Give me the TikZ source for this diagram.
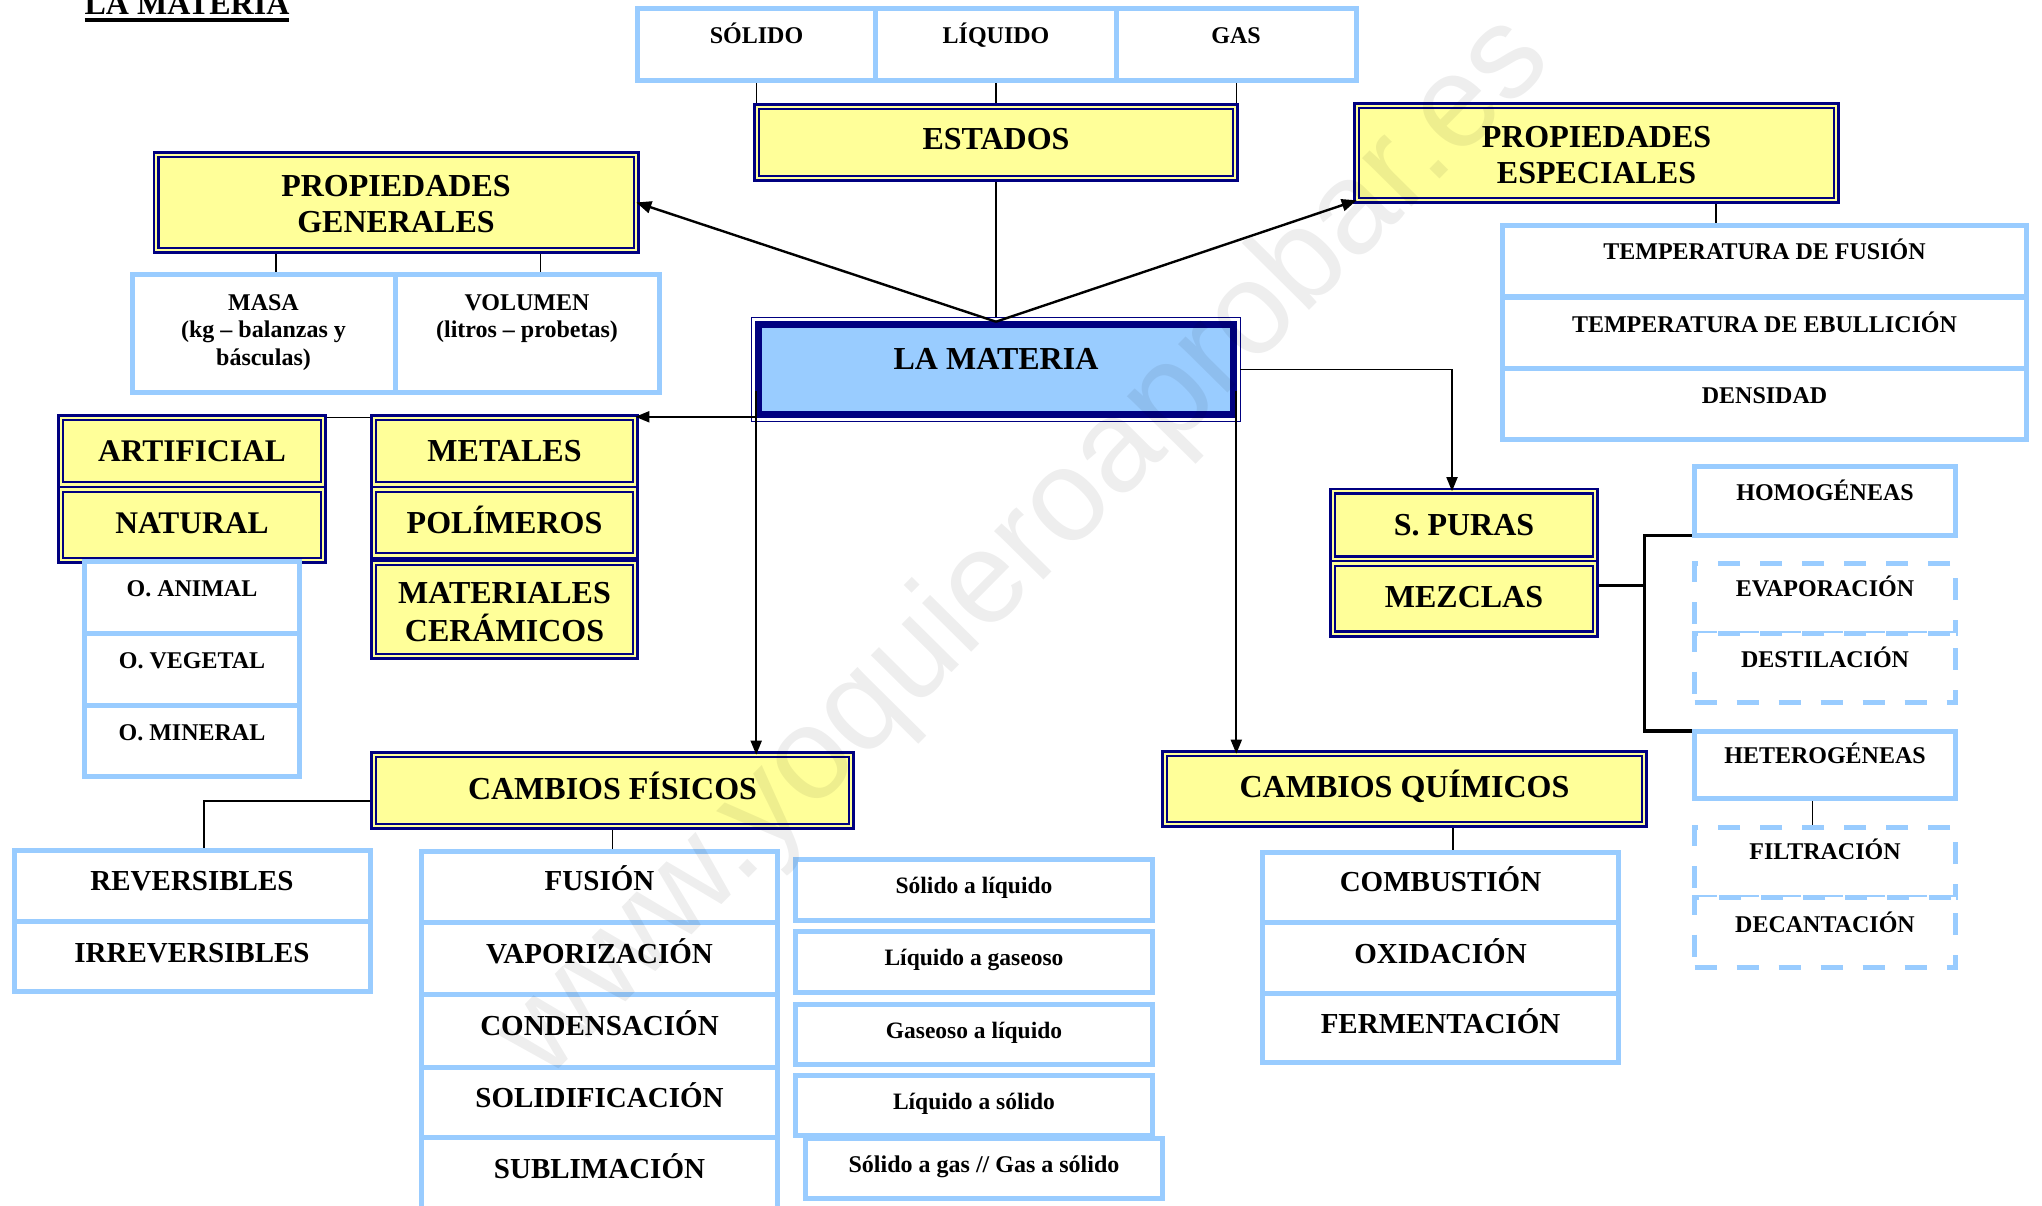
\documentclass[tikz,border=0pt]{standalone}
\usepackage{fontspec}
\setmainfont{Liberation Serif}
\newfontfamily\wmfont{Liberation Sans}
\usetikzlibrary{arrows.meta}
\definecolor{lblue}{HTML}{99CCFF}
\definecolor{yel}{HTML}{FFFF99}
\definecolor{navy}{HTML}{000080}
\pgfdeclarelayer{bg}
\pgfdeclarelayer{fg}
\pgfsetlayers{bg,main,fg}
\newcommand\cbox[6]{\node[#1, minimum width={#5-#3}, minimum height={#6-#4}] (#2) at ({(#3+#5)/2},{(#4+#6)/2}) {};}
\newcommand\twol[3]{\vtop{\baselineskip=#1pt\lineskiplimit=-100pt\relax\halign{\hfil##\hfil\cr#2\cr#3\cr}}}
\newcommand\threel[4]{\vtop{\baselineskip=#1pt\lineskiplimit=-100pt\relax\halign{\hfil##\hfil\cr#2\cr#3\cr#4\cr}}}
\begin{document}
\begin{tikzpicture}[x=1pt,y=-1pt,
  lb/.style={rectangle, draw=lblue, line width=5pt, fill=white, inner sep=0pt, outer sep=0pt},
  lbd/.style={lb, dash pattern=on 22pt off 20pt},
  yb/.style={rectangle, draw=navy, double=yel, double distance=2.2pt, line width=2.6pt, fill=yel, inner sep=0pt, outer sep=0pt},
  matout/.style={rectangle, draw=navy, line width=1.5pt, fill=white, inner sep=0pt, outer sep=0pt},
  matin/.style={rectangle, draw=navy, line width=7pt, fill=lblue, inner sep=0pt, outer sep=0pt},
  tx/.style={anchor=base, inner sep=0pt, outer sep=0pt, font=\fontsize{#1}{#1}\selectfont\bfseries},
  thinl/.style={line width=1.5pt, black},
  brack/.style={line width=3.5pt, black},
  arr/.style={line width=2.4pt, black, -{Triangle[length=15pt,width=12pt]}},
  arrb/.style={line width=1.8pt, black, -{Triangle[length=14pt,width=11pt]}}
]
\useasboundingbox (0,0) rectangle (2042,1206);
\clip (0,0) rectangle (2042,1206);
\begin{pgfonlayer}{bg}
\fill[white] (0,0) rectangle (2042,1206);
\end{pgfonlayer}

% ---------- boxes ----------
\cbox{lb}{sol}{637.5}{8.5}{875.5}{80.5}
\cbox{lb}{liq}{875.5}{8.5}{1116}{80.5}
\cbox{lb}{gas}{1116}{8.5}{1356.5}{80.5}
\cbox{yb}{est}{756.7}{106.7}{1235.3}{178.3}
\cbox{yb}{pgen}{156.2}{154.7}{636.3}{250.3}
\cbox{yb}{pesp}{1356.7}{105.7}{1836.3}{200.3}
\cbox{lb}{masa}{132}{274.5}{395}{392.5}
\cbox{lb}{vol}{395}{274.5}{659.5}{392.5}
\cbox{lb}{tempf}{1502.5}{225.5}{2026.5}{297}
\cbox{lb}{tempe}{1502.5}{297}{2026.5}{368}
\cbox{lb}{dens}{1502.5}{368}{2026.5}{439.5}
\cbox{matout}{mat}{751.7}{317.7}{1240.3}{421.3}
\cbox{matin}{matin}{758.5}{324.5}{1233.5}{414.5}
\cbox{yb}{art}{60.7}{417.7}{323.3}{484.5}
\cbox{yb}{nat}{60.7}{489.5}{323.3}{560.3}
\cbox{lb}{oani}{84.5}{561.5}{299.5}{633}
\cbox{lb}{oveg}{84.5}{633}{299.5}{705}
\cbox{lb}{omin}{84.5}{705}{299.5}{776.5}
\cbox{yb}{met}{373.7}{417.7}{635.3}{484.5}
\cbox{yb}{pol}{373.7}{489.5}{635.3}{555.5}
\cbox{yb}{cer}{373.7}{562.7}{635.3}{656.3}
\cbox{yb}{spur}{1332.7}{491.2}{1595.3}{559}
\cbox{yb}{mez}{1332.7}{563.5}{1595.3}{633.8}
\cbox{lb}{homo}{1694.5}{466.5}{1955.5}{535.5}
\cbox{lbd}{evap}{1694.5}{563.5}{1955.5}{633}
\cbox{lbd}{dest}{1694.5}{633}{1955.5}{702.5}
\cbox{lb}{het}{1694.5}{731}{1955.5}{798.5}
\cbox{lbd}{filt}{1694.5}{827.5}{1955.5}{897}
\cbox{lbd}{deca}{1694.5}{897}{1955.5}{967.5}
\cbox{yb}{cf}{373.7}{754.7}{851.3}{826.3}
\cbox{yb}{cq}{1164.7}{753.7}{1644.3}{824.3}
\cbox{lb}{rev}{14}{850.5}{370}{921}
\cbox{lb}{irr}{14}{921}{370}{991.5}
\cbox{lb}{fus}{421.5}{851.5}{777.5}{922}
\cbox{lb}{vap}{421.5}{922}{777.5}{994}
\cbox{lb}{con}{421.5}{994}{777.5}{1067}
\cbox{lb}{soli}{421.5}{1067}{777.5}{1137.5}
\cbox{lb}{sub}{421.5}{1137.5}{777.5}{1212}
\cbox{lb}{sl}{795.5}{859.5}{1152.5}{920.5}
\cbox{lb}{lg}{795.5}{931.5}{1152.5}{992.5}
\cbox{lb}{gl}{795.5}{1004.5}{1152.5}{1064.5}
\cbox{lb}{ls}{795.5}{1075.5}{1152.5}{1135.5}
\cbox{lb}{sg}{805.5}{1138.5}{1162.5}{1198.5}
\cbox{lb}{comb}{1262.5}{852.5}{1618.5}{922}
\cbox{lb}{oxi}{1262.5}{922}{1618.5}{993}
\cbox{lb}{fer}{1262.5}{993}{1618.5}{1062.5}

% ---------- texts ----------
\node[tx=32] (ttl) at (187,15) {LA MATERIA};
\draw[line width=3.5pt] ([yshift=-5pt]ttl.base west) -- ([yshift=-5pt]ttl.base east);
\node[tx=24] (t-sol) at (756.5,44) {SÓLIDO};
\node[tx=24] (t-liq) at (996,44) {LÍQUIDO};
\node[tx=24] (t-gas) at (1236,44) {GAS};
\node[tx=32] (t-est) at (996,150) {ESTADOS};
\node[tx=32] (t-mat) at (996,369) {LA MATERIA};
\node[tx=32] (t-pgen) at (396,197) {\twol{36}{PROPIEDADES}{GENERALES}};
\node[tx=32] (t-pesp) at (1596.5,148) {\twol{36}{PROPIEDADES}{ESPECIALES}};
\node[tx=24] (t-masa) at (263.5,310) {\threel{27.5}{MASA}{(kg – balanzas y}{básculas)}};
\node[tx=24] (t-vol) at (527,310) {\twol{27.5}{VOLUMEN}{(litros – probetas)}};
\node[tx=24] (t-tempf) at (1764.5,260) {TEMPERATURA DE FUSIÓN};
\node[tx=24] (t-tempe) at (1764.5,332) {TEMPERATURA DE EBULLICIÓN};
\node[tx=24] (t-dens) at (1764.5,403) {DENSIDAD};
\node[tx=31.5] (t-art) at (192,461) {ARTIFICIAL};
\node[tx=31.5] (t-nat) at (192,533) {NATURAL};
\node[tx=24] (t-oani) at (192,596) {O. ANIMAL};
\node[tx=24] (t-oveg) at (192,668) {O. VEGETAL};
\node[tx=24] (t-omin) at (192,740) {O. MINERAL};
\node[tx=32] (t-met) at (504.5,461) {METALES};
\node[tx=32] (t-pol) at (504.5,533) {POLÍMEROS};
\node[tx=32] (t-cer) at (504.5,603) {\twol{38}{MATERIALES}{CERÁMICOS}};
\node[tx=32] (t-spur) at (1464,535) {S. PURAS};
\node[tx=32] (t-mez) at (1464,607) {MEZCLAS};
\node[tx=24] (t-homo) at (1825,500) {HOMOGÉNEAS};
\node[tx=24] (t-evap) at (1825,596) {EVAPORACIÓN};
\node[tx=24] (t-dest) at (1825,667) {DESTILACIÓN};
\node[tx=24] (t-het) at (1825,763) {HETEROGÉNEAS};
\node[tx=24] (t-filt) at (1825,859) {FILTRACIÓN};
\node[tx=24] (t-deca) at (1825,932) {DECANTACIÓN};
\node[tx=32] (t-cf) at (612.5,799) {CAMBIOS FÍSICOS};
\node[tx=32] (t-cq) at (1404.5,797) {CAMBIOS QUÍMICOS};
\node[tx=29] (t-rev) at (192,890) {REVERSIBLES};
\node[tx=29] (t-irr) at (192,962) {IRREVERSIBLES};
\node[tx=29] (t-fus) at (599.5,890) {FUSIÓN};
\node[tx=29] (t-vap) at (599.5,963) {VAPORIZACIÓN};
\node[tx=29] (t-con) at (599.5,1035) {CONDENSACIÓN};
\node[tx=29] (t-soli) at (599.5,1107) {SOLIDIFICACIÓN};
\node[tx=29] (t-sub) at (599.5,1178) {SUBLIMACIÓN};
\node[tx=23.5] (t-sl) at (974,893) {Sólido a líquido};
\node[tx=23.5] (t-lg) at (974,965) {Líquido a gaseoso};
\node[tx=23.5] (t-gl) at (974,1038) {Gaseoso a líquido};
\node[tx=23.5] (t-ls) at (974,1109) {Líquido a sólido};
\node[tx=24] (t-sg) at (984,1172) {Sólido a gas // Gas a sólido};
\node[tx=29] (t-comb) at (1440.5,891) {COMBUSTIÓN};
\node[tx=29] (t-oxi) at (1440.5,963) {OXIDACIÓN};
\node[tx=29] (t-fer) at (1440.5,1033) {FERMENTACIÓN};

% ---------- plain connectors ----------
\begin{pgfonlayer}{bg}
\draw[thinl] (sol.south) -- (sol.south |- est.north);
\draw[thinl] (liq.south) -- (liq.south |- est.north);
\draw[thinl] (gas.south) -- (gas.south |- est.north);
\draw[thinl] (est.south) -- ([yshift=-4pt]mat.north);
\draw[thinl] ([xshift=12.5pt]masa.north) -- ([xshift=12.5pt]masa.north |- pgen.south);
\draw[thinl] ([xshift=13pt]vol.north) -- ([xshift=13pt]vol.north |- pgen.south);
\draw[thinl] ([xshift=-48.5pt]tempf.north) -- ([xshift=-48.5pt]tempf.north |- pesp.south);
\draw[thinl] (art.north east) -- (met.north west);
\draw[thinl] ([yshift=-10.5pt]cf.west) -| ([xshift=12pt]rev.north);
\draw[thinl] (cf.south) -- (cf.south |- fus.north);
\draw[thinl] ([xshift=12.5pt]comb.north) -- ([xshift=12.5pt]comb.north |- cq.south);
\draw[thinl] ([xshift=-12.5pt]het.south) -- ([xshift=-12.5pt]het.south |- filt.north);
\coordinate (brk) at (1644.5,600);
\draw[brack] (homo.south west) -| (brk) |- (het.north west);
\draw[brack] ([yshift=13pt]mez.east) -- ([yshift=13pt]mez.east -| brk);
\end{pgfonlayer}

% ---------- arrows ----------
\coordinate (mL) at ([shift={(4.5pt,30pt)}]mat.south west);
\coordinate (mR) at ([shift={(-4pt,30pt)}]mat.south east);
\coordinate (mM) at ([shift={(4.5pt,4.5pt)}]mat.south west);
\coordinate (mT) at ([yshift=-4pt]mat.north);
\coordinate (spurIn) at ([xshift=-12pt]spur.north);
\draw[arr] (mT) -- (pgen.east);
\draw[arr] (mT) -- (pesp.south west);
\draw[arrb] (mat.east) -| (spurIn);
\draw[arrb] (mL) -- (mL |- cf.north);
\draw[arrb] (mR) -- (mR |- cq.north);
\draw[arrb] (mM) -- (mM -| met.east);

% ---------- watermark ----------
\begin{pgfonlayer}{fg}
\node[rotate=45.3, anchor=base, inner sep=0pt, text=black, text opacity=0.065, font=\wmfont\fontsize{131}{131}\selectfont] (wm) at (1050,573) {www.yoquieroaprobar.es};
\end{pgfonlayer}
\end{tikzpicture}
\end{document}
